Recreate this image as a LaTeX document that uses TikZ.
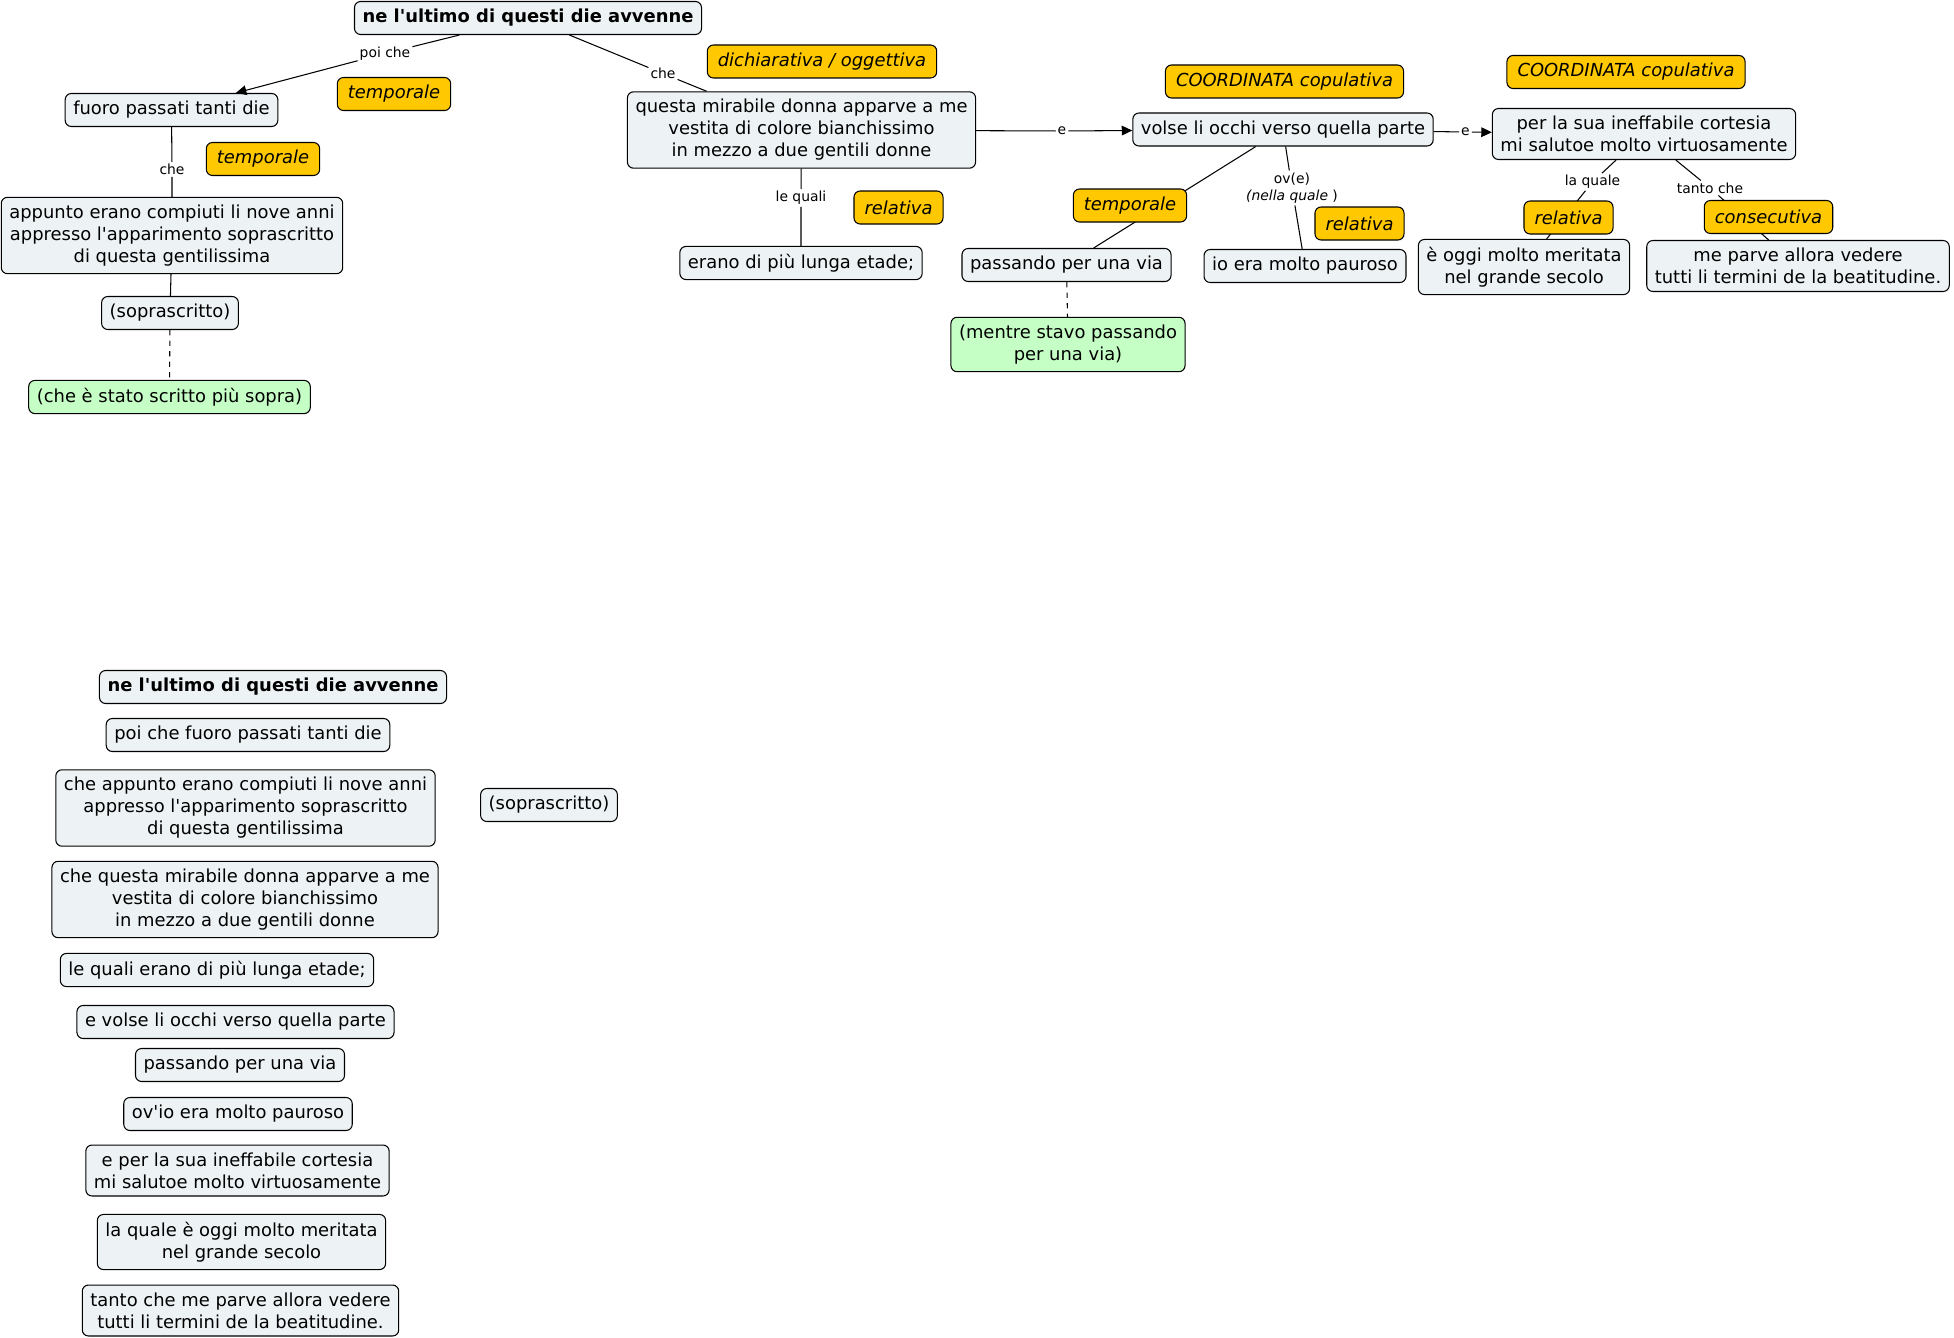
\documentclass[tikz,border=0pt]{standalone}
\usepackage{fontspec}
\setmainfont{DejaVu Sans}[Ligatures=TeXOff]
\usepackage{xcolor}
\usetikzlibrary{arrows.meta}
\definecolor{cmapgray}{RGB}{237,243,245}
\definecolor{cmapyel}{RGB}{255,200,0}
\definecolor{cmapgreen}{RGB}{198,255,198}

\begin{document}
\begin{tikzpicture}[
  box/.style={draw,rounded corners=3.5pt,align=center,line width=0.6pt,fill=#1,
              font=\fontsize{10.2}{12.5}\selectfont,inner xsep=4.6pt,inner ysep=4.3pt,minimum height=0.66cm},
  box/.default=cmapgray,
  tag/.style={box=cmapyel,font=\fontsize{10.2}{12.5}\selectfont\itshape,inner xsep=6pt},
  lab/.style={fill=white,inner sep=1pt,align=center,font=\fontsize{7.9}{9.9}\selectfont},
  lnk/.style={line width=0.6pt},
  arr/.style={lnk,-{Triangle[length=6pt,width=5.5pt]}}]
  \useasboundingbox (0,0) rectangle (39.08,-26.76);
  % the map
  \node[box] (root) at (10.56,-0.36) {\textbf{ne l'ultimo di questi die avvenne}};
  \node[box] (fuoro) at (3.43,-2.2) {fuoro passati tanti die};
  \node[box] (appunto) at (3.44,-4.71) {appunto erano compiuti li nove anni\\appresso l'apparimento soprascritto\\di questa gentilissima};
  \node[box] (sopra) at (3.40,-6.26) {(soprascritto)};
  \node[box=cmapgreen] (sopraG) at (3.39,-7.94) {(che è stato scritto più sopra)};
  \node[box] (questa) at (16.03,-2.6) {questa mirabile donna apparve a me\\vestita di colore bianchissimo\\in mezzo a due gentili donne};
  \node[box] (erano) at (16.02,-5.26) {erano di più lunga etade;};
  \node[box] (volse) at (25.66,-2.59) {volse li occhi verso quella parte};
  \node[box] (passando) at (21.33,-5.3) {passando per una via};
  \node[box=cmapgreen] (mentre) at (21.36,-6.89) {(mentre stavo passando\\per una via)};
  \node[box] (io) at (26.1,-5.32) {io era molto pauroso};
  \node[box] (perla) at (32.88,-2.68) {per la sua ineffabile cortesia\\mi salutoe molto virtuosamente};
  \node[box] (oggi) at (30.48,-5.34) {è oggi molto meritata\\nel grande secolo};
  \node[box] (parve) at (35.96,-5.32) {me parve allora vedere\\tutti li termini de la beatitudine.};
  % link phrases
  \node[lab] (lPoi) at (7.7,-1.07) {poi che};
  \node[lab] (lCheA) at (13.26,-1.47) {che};
  \node[lab] (lCheB) at (3.44,-3.39) {che};
  \node[lab] (lQuali) at (16.02,-3.96) {le quali};
  \node[lab] (lEA) at (21.24,-2.62) {e};
  \node[lab] (lOve) at (25.84,-3.76) {ov(e)\\\textit{(nella quale} )};
  \node[lab] (lEB) at (29.31,-2.64) {e};
  \node[lab] (lQuale) at (31.85,-3.64) {la quale};
  \node[lab] (lTanto) at (34.2,-3.76) {tanto che};
  % connectors
  \draw[arr] (root) -- (lPoi) -- (fuoro);
  \draw[arr] (questa) -- (lEA) -- (volse);
  \draw[arr] (volse) -- (lEB) -- (perla);
  \draw[lnk] (root) -- (lCheA) -- (questa);
  \draw[lnk] (fuoro) -- (lCheB) -- (appunto);
  \draw[lnk] (questa) -- (lQuali) -- (erano);
  \draw[lnk] (volse) -- (lOve) -- (io);
  \draw[lnk] (perla) -- (lQuale) -- (oggi);
  \draw[lnk] (perla) -- (lTanto) -- (parve);
  \draw[lnk] (volse) -- (passando);
  \draw[lnk] (appunto) -- (sopra);
  \foreach \a/\b in {sopra/sopraG,passando/mentre} \draw[lnk,dashed] (\a) -- (\b);
  % kinds of clause
  \node[tag] (tempA) at (7.88,-1.88) {temporale};
  \node[tag] (tempB) at (5.26,-3.18) {temporale};
  \node[tag] (dich) at (16.44,-1.23) {dichiarativa / oggettiva};
  \node[tag] (relA) at (17.97,-4.15) {relativa};
  \node[tag] (coordA) at (25.69,-1.63) {COORDINATA copulativa};
  \node[tag] (tempC) at (22.6,-4.11) {temporale};
  \node[tag] (relB) at (27.19,-4.47) {relativa};
  \node[tag] (coordB) at (32.52,-1.44) {COORDINATA copulativa};
  \node[tag] (relC) at (31.37,-4.35) {relativa};
  \node[tag] (consec) at (35.37,-4.34) {consecutiva};
  % the list below
  \node[box] (sA) at (5.46,-13.74) {\textbf{ne l'ultimo di questi die avvenne}};
  \node[box] (sB) at (4.96,-14.7) {poi che fuoro passati tanti die};
  \node[box] (sC) at (4.91,-16.16) {che appunto erano compiuti li nove anni\\appresso l'apparimento soprascritto\\di questa gentilissima};
  \node[box] (sD) at (10.98,-16.1) {(soprascritto)};
  \node[box] (sE) at (4.9,-17.99) {che questa mirabile donna apparve a me\\vestita di colore bianchissimo\\in mezzo a due gentili donne};
  \node[box] (sF) at (4.34,-19.4) {le quali erano di più lunga etade;};
  \node[box] (sG) at (4.71,-20.44) {e volse li occhi verso quella parte};
  \node[box] (sH) at (4.8,-21.3) {passando per una via};
  \node[box] (sI) at (4.76,-22.28) {ov'io era molto pauroso};
  \node[box] (sJ) at (4.75,-23.41) {e per la sua ineffabile cortesia\\mi salutoe molto virtuosamente};
  \node[box] (sK) at (4.83,-24.84) {la quale è oggi molto meritata\\nel grande secolo};
  \node[box] (sL) at (4.81,-26.21) {tanto che me parve allora vedere\\tutti li termini de la beatitudine.};
\end{tikzpicture}
\end{document}
